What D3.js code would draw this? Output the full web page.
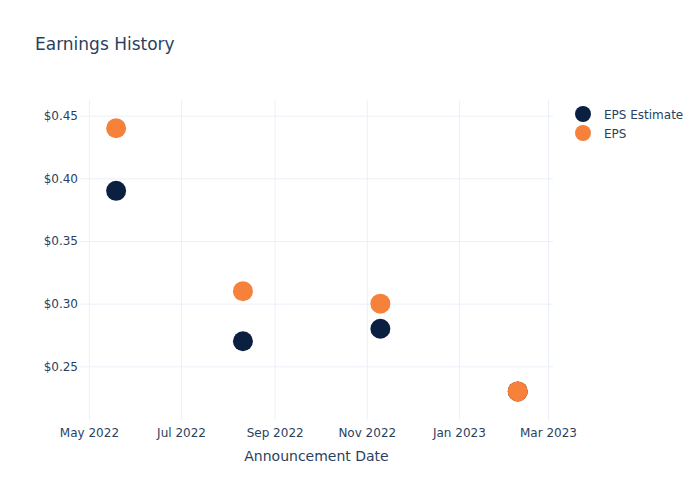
<!DOCTYPE html>
<html>
<head>
<meta charset="utf-8">
<script src="https://cdn.jsdelivr.net/npm/d3@7"></script>
<style>
  html, body { margin: 0; padding: 0; background: #fff; }
  text { font-family: "DejaVu Sans", Verdana, sans-serif; }
</style>
</head>
<body>
<svg id="chart" width="700" height="500"></svg>
<script>
const dates = ["2022-05-19", "2022-08-11", "2022-11-10", "2023-02-09"];
const epsEstimate = [0.39, 0.27, 0.28, 0.23];
const eps = [0.44, 0.31, 0.30, 0.23];
const seriesNames = ["EPS Estimate", "EPS"];
const seriesColors = ["#0b1f41", "#f5813a"];
const xTickDates = ["2022-05-01", "2022-07-01", "2022-09-01", "2022-11-01", "2023-01-01", "2023-03-01"];
const yTickValues = [0.25, 0.30, 0.35, 0.40, 0.45];

const parse = d3.utcParse("%Y-%m-%d");
const svg = d3.select("#chart");
const W = 700, H = 500;
const m = { l: 80, r: 147, t: 100, b: 80 };
const textColor = "#2a3f5f";
const gridColor = "#ebf0f8";

const x = d3.scaleUtc()
  .domain([new Date(Date.UTC(2022, 3, 25, 2)), new Date(Date.UTC(2023, 2, 4, 8))])
  .range([m.l, W - m.r]);
const y = d3.scaleLinear()
  .domain([0.2072, 0.4625])
  .range([H - m.b, m.t]);

// grid
const gx = svg.append("g")
  .attr("transform", `translate(0,${H - m.b})`)
  .call(d3.axisBottom(x).tickValues(xTickDates.map(parse)).tickFormat(d3.utcFormat("%b %Y")).tickSize(-(H - m.t - m.b)).tickPadding(6));
gx.select(".domain").remove();
gx.selectAll(".tick line").attr("stroke", gridColor).attr("stroke-width", 1);
gx.selectAll(".tick text").attr("fill", textColor).attr("font-size", 12)
  .attr("font-family", "DejaVu Sans, Verdana, sans-serif").attr("dy", "0.95em");

const gy = svg.append("g")
  .attr("transform", `translate(${m.l},0)`)
  .call(d3.axisLeft(y).tickValues(yTickValues).tickFormat(d => "$" + d3.format(".2f")(d)).tickSize(-(W - m.l - m.r)).tickPadding(2));
gy.select(".domain").remove();
gy.selectAll(".tick line").attr("stroke", gridColor).attr("stroke-width", 1);
gy.selectAll(".tick text").attr("fill", textColor).attr("font-size", 12)
  .attr("font-family", "DejaVu Sans, Verdana, sans-serif");

// points
const series = [epsEstimate, eps];
series.forEach((vals, si) => {
  svg.append("g").selectAll("circle")
    .data(vals.map((v, i) => ({ d: parse(dates[i]), v })))
    .join("circle")
    .attr("cx", d => x(d.d))
    .attr("cy", d => y(d.v))
    .attr("r", 10)
    .attr("fill", seriesColors[si]);
});

// title
svg.append("text").attr("x", 35).attr("y", 50)
  .attr("fill", textColor).attr("font-size", 17)
  .text("Earnings History");

// axis title
svg.append("text").attr("x", (m.l + W - m.r) / 2).attr("y", 461)
  .attr("text-anchor", "middle").attr("fill", textColor).attr("font-size", 14)
  .text("Announcement Date");

// legend
const lg = svg.append("g");
seriesNames.forEach((n, i) => {
  const yy = 114 + i * 19;
  lg.append("circle").attr("cx", 583).attr("cy", yy).attr("r", 8).attr("fill", seriesColors[i]);
  lg.append("text").attr("x", 604).attr("y", yy + 4.5)
    .attr("fill", textColor).attr("font-size", 12).text(n);
});
</script>
</body>
</html>
